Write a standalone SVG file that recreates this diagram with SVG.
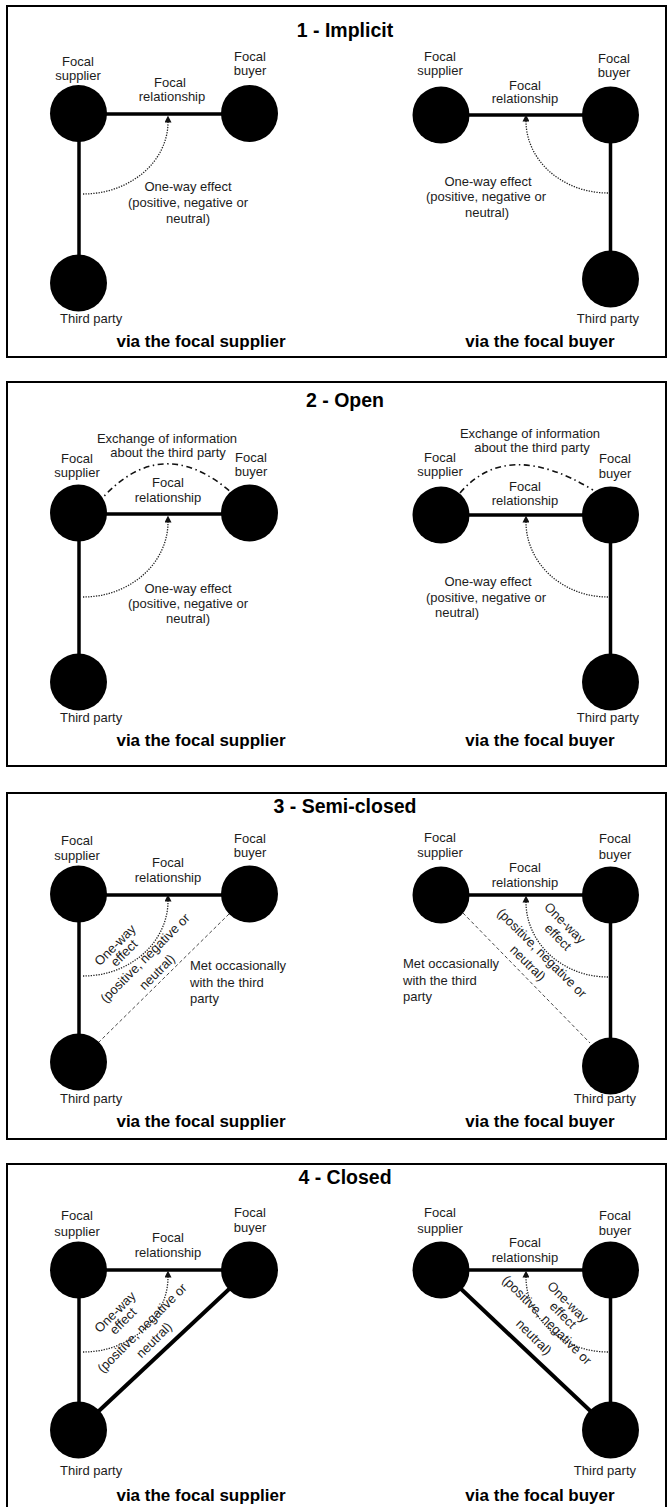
<svg xmlns="http://www.w3.org/2000/svg" width="669" height="1507" viewBox="0 0 669 1507">
<style>
  .frame { fill: none; stroke: #000; stroke-width: 2; }
  .title { font: bold 19.5px "Liberation Sans", Arial, sans-serif; text-anchor: middle; fill: #000; }
  .sub { font: bold 17px "Liberation Sans", Arial, sans-serif; text-anchor: middle; fill: #000; }
  .lbl { font: 13px "Liberation Sans", Arial, sans-serif; text-anchor: middle; fill: #1c1c1c; }
  .start { text-anchor: start; }
  .end { text-anchor: end; }
  .node { fill: #000; }
  .tie { stroke: #000; stroke-width: 3.5; fill: none; }
  .tie-d { stroke: #000; stroke-width: 4; fill: none; }
  .effect { stroke: #222; stroke-width: 1.3; stroke-dasharray: 1.3 1.3; fill: none; marker-end: url(#arrow); }
  .info { stroke: #111; stroke-width: 1.6; stroke-dasharray: 6 3.5 1.5 3.5; fill: none; }
  .meet { stroke: #333; stroke-width: 0.9; stroke-dasharray: 3.5 2.5; fill: none; }
</style>
<defs>
  <marker id="arrow" markerUnits="userSpaceOnUse" markerWidth="7" markerHeight="7" viewBox="0 0 6 6" refX="0.5" refY="3" orient="auto">
    <path d="M0,0 L6,3 L0,6 z" fill="#111"/>
  </marker>
</defs>
<rect width="669" height="1507" fill="#fff"/>

<!-- ===== 1 - Implicit ===== -->
<g id="panel-1">
  <rect class="frame" x="7" y="6" width="659" height="351"/>
  <text class="title" x="345" y="37">1 - Implicit</text>

  <g id="p1-left">
    <g id="p1l-connectors">
      <line class="tie" x1="78.5" y1="114" x2="249.5" y2="114"/>
      <line class="tie" x1="79" y1="113.5" x2="79" y2="283"/>
      <path class="effect" d="M 83 194 A 85 72 0 0 0 168 122"/>
    </g>
    <g id="p1l-supplier"><circle class="node" cx="78.5" cy="113.5" r="28.5"/><text class="lbl" x="78" y="66">Focal</text><text class="lbl" x="78" y="80">supplier</text></g>
    <g id="p1l-buyer"><circle class="node" cx="249.5" cy="113.5" r="28.5"/><text class="lbl" x="250" y="61">Focal</text><text class="lbl" x="250" y="75">buyer</text></g>
    <g id="p1l-third"><circle class="node" cx="78.5" cy="283" r="28.5"/><text class="lbl start" x="60" y="323">Third party</text></g>
    <text class="lbl" x="170" y="87">Focal</text><text class="lbl" x="172" y="101">relationship</text>
    <text class="lbl" x="188" y="191">One-way effect</text>
    <text class="lbl" x="188" y="207">(positive, negative or</text>
    <text class="lbl" x="188" y="223">neutral)</text>
    <text class="sub" x="201" y="347">via the focal supplier</text>
  </g>

  <g id="p1-right">
    <g id="p1r-connectors">
      <line class="tie" x1="441" y1="115" x2="610.5" y2="115"/>
      <line class="tie" x1="610.5" y1="115" x2="610.5" y2="279"/>
      <path class="effect" d="M 608 193 A 82 72 0 0 1 526 121"/>
    </g>
    <g id="p1r-supplier"><circle class="node" cx="441" cy="115" r="28.5"/><text class="lbl" x="440" y="61">Focal</text><text class="lbl" x="440" y="75">supplier</text></g>
    <g id="p1r-buyer"><circle class="node" cx="610.5" cy="115" r="28.5"/><text class="lbl" x="614" y="63">Focal</text><text class="lbl" x="614" y="77">buyer</text></g>
    <g id="p1r-third"><circle class="node" cx="610.5" cy="279" r="28.5"/><text class="lbl end" x="639" y="323">Third party</text></g>
    <text class="lbl" x="525" y="90">Focal</text><text class="lbl" x="525" y="103">relationship</text>
    <text class="lbl" x="488" y="186">One-way effect</text>
    <text class="lbl" x="486" y="201">(positive, negative or</text>
    <text class="lbl" x="487" y="217">neutral)</text>
    <text class="sub" x="540" y="347">via the focal buyer</text>
  </g>
</g>

<!-- ===== 2 - Open ===== -->
<g id="panel-2">
  <rect class="frame" x="7" y="382" width="659" height="384"/>
  <text class="title" x="345" y="407">2 - Open</text>

  <g id="p2-left">
    <g id="p2l-connectors">
      <line class="tie" x1="78.5" y1="514" x2="249.5" y2="514"/>
      <line class="tie" x1="79" y1="513" x2="79" y2="682"/>
      <path class="info" d="M 98 503 Q 160 430 232 493"/>
      <path class="effect" d="M 83 597 A 85 75 0 0 0 168 522"/>
    </g>
    <text class="lbl" x="167" y="443">Exchange of information</text>
    <text class="lbl" x="168" y="457">about the third party</text>
    <g id="p2l-supplier"><circle class="node" cx="78.5" cy="513" r="28.5"/><text class="lbl" x="77" y="463">Focal</text><text class="lbl" x="77" y="477">supplier</text></g>
    <g id="p2l-buyer"><circle class="node" cx="249.5" cy="513" r="28.5"/><text class="lbl" x="251" y="462">Focal</text><text class="lbl" x="251" y="476">buyer</text></g>
    <g id="p2l-third"><circle class="node" cx="78.5" cy="682" r="28.5"/><text class="lbl start" x="60" y="722">Third party</text></g>
    <text class="lbl" x="168" y="487">Focal</text><text class="lbl" x="168" y="502">relationship</text>
    <text class="lbl" x="188" y="593">One-way effect</text>
    <text class="lbl" x="188" y="608">(positive, negative or</text>
    <text class="lbl" x="188" y="623">neutral)</text>
    <text class="sub" x="201" y="746">via the focal supplier</text>
  </g>

  <g id="p2-right">
    <g id="p2r-connectors">
      <line class="tie" x1="441" y1="515" x2="610.5" y2="515"/>
      <line class="tie" x1="610.5" y1="515" x2="610.5" y2="682"/>
      <path class="info" d="M 460 493 Q 507 438 593 490"/>
      <path class="effect" d="M 608 597 A 82 75 0 0 1 526 522"/>
    </g>
    <text class="lbl" x="530" y="438">Exchange of information</text>
    <text class="lbl" x="532" y="452">about the third party</text>
    <g id="p2r-supplier"><circle class="node" cx="441" cy="515" r="28.5"/><text class="lbl" x="440" y="462">Focal</text><text class="lbl" x="440" y="476">supplier</text></g>
    <g id="p2r-buyer"><circle class="node" cx="610.5" cy="515" r="28.5"/><text class="lbl" x="615" y="463">Focal</text><text class="lbl" x="615" y="478">buyer</text></g>
    <g id="p2r-third"><circle class="node" cx="610.5" cy="682" r="28.5"/><text class="lbl end" x="639" y="722">Third party</text></g>
    <text class="lbl" x="525" y="491">Focal</text><text class="lbl" x="525" y="505">relationship</text>
    <text class="lbl" x="488" y="586">One-way effect</text>
    <text class="lbl" x="486" y="602">(positive, negative or</text>
    <text class="lbl start" x="435" y="617">neutral)</text>
    <text class="sub" x="540" y="746">via the focal buyer</text>
  </g>
</g>

<!-- ===== 3 - Semi-closed ===== -->
<g id="panel-3">
  <rect class="frame" x="7" y="793" width="659" height="346"/>
  <text class="title" x="345" y="813">3 - Semi-closed</text>

  <g id="p3-left">
    <g id="p3l-connectors">
      <line class="tie" x1="78.5" y1="895" x2="249.5" y2="895"/>
      <line class="tie" x1="79" y1="894" x2="79" y2="1062"/>
      <line class="meet" x1="229" y1="914" x2="99" y2="1042"/>
      <path class="effect" d="M 83 976 A 85 75 0 0 0 168 901"/>
    </g>
    <g id="p3l-supplier"><circle class="node" cx="78.5" cy="894" r="28.5"/><text class="lbl" x="77" y="845">Focal</text><text class="lbl" x="77" y="860">supplier</text></g>
    <g id="p3l-buyer"><circle class="node" cx="249.5" cy="894" r="28.5"/><text class="lbl" x="250" y="843">Focal</text><text class="lbl" x="250" y="857">buyer</text></g>
    <g id="p3l-third"><circle class="node" cx="78.5" cy="1062" r="28.5"/><text class="lbl start" x="60" y="1103">Third party</text></g>
    <text class="lbl" x="168" y="867">Focal</text><text class="lbl" x="168" y="882">relationship</text>
    <text class="lbl" x="115" y="945" dy="4.5" transform="rotate(-45 115 945)">One-way</text>
    <text class="lbl" x="124" y="953" dy="4.5" transform="rotate(-45 124 953)">effect</text>
    <text class="lbl" x="145" y="958" dy="4.5" transform="rotate(-45 145 958)">(positive, negative or</text>
    <text class="lbl" x="157" y="972" dy="4.5" transform="rotate(-45 157 972)">neutral)</text>
    <text class="lbl start" x="190" y="970">Met occasionally</text>
    <text class="lbl start" x="190" y="987">with the third</text>
    <text class="lbl start" x="190" y="1003">party</text>
    <text class="sub" x="201" y="1127">via the focal supplier</text>
  </g>

  <g id="p3-right">
    <g id="p3r-connectors">
      <line class="tie" x1="441" y1="895" x2="610.5" y2="895"/>
      <line class="tie" x1="610.5" y1="895" x2="610.5" y2="1066"/>
      <line class="meet" x1="463" y1="913" x2="590" y2="1043"/>
      <path class="effect" d="M 608 977 A 82 75 0 0 1 526 902"/>
    </g>
    <g id="p3r-supplier"><circle class="node" cx="441" cy="895" r="28.5"/><text class="lbl" x="440" y="842">Focal</text><text class="lbl" x="440" y="857">supplier</text></g>
    <g id="p3r-buyer"><circle class="node" cx="610.5" cy="895" r="28.5"/><text class="lbl" x="615" y="843">Focal</text><text class="lbl" x="615" y="859">buyer</text></g>
    <g id="p3r-third"><circle class="node" cx="610.5" cy="1066" r="28.5"/><text class="lbl end" x="636" y="1103">Third party</text></g>
    <text class="lbl" x="525" y="872">Focal</text><text class="lbl" x="525" y="887">relationship</text>
    <text class="lbl" x="565" y="923" dy="4.5" transform="rotate(45 565 923)">One-way</text>
    <text class="lbl" x="558" y="937" dy="4.5" transform="rotate(45 558 937)">effect</text>
    <text class="lbl" x="542" y="953" dy="4.5" transform="rotate(45 542 953)">(positive, negative or</text>
    <text class="lbl" x="528" y="963" dy="4.5" transform="rotate(45 528 963)">neutral)</text>
    <text class="lbl start" x="403" y="968">Met occasionally</text>
    <text class="lbl start" x="403" y="985">with the third</text>
    <text class="lbl start" x="403" y="1001">party</text>
    <text class="sub" x="540" y="1127">via the focal buyer</text>
  </g>
</g>

<!-- ===== 4 - Closed ===== -->
<g id="panel-4">
  <rect class="frame" x="7" y="1164" width="659" height="370"/>
  <text class="title" x="345" y="1184">4 - Closed</text>

  <g id="p4-left">
    <g id="p4l-connectors">
      <line class="tie" x1="78.5" y1="1270" x2="249.5" y2="1270"/>
      <line class="tie" x1="79" y1="1270" x2="79" y2="1430"/>
      <line class="tie-d" x1="249.5" y1="1270" x2="78.5" y2="1430"/>
      <path class="effect" d="M 83 1352 A 85 75 0 0 0 168 1277"/>
    </g>
    <g id="p4l-supplier"><circle class="node" cx="78.5" cy="1270" r="28.5"/><text class="lbl" x="77" y="1220">Focal</text><text class="lbl" x="77" y="1236">supplier</text></g>
    <g id="p4l-buyer"><circle class="node" cx="249.5" cy="1270" r="28.5"/><text class="lbl" x="250" y="1217">Focal</text><text class="lbl" x="250" y="1232">buyer</text></g>
    <g id="p4l-third"><circle class="node" cx="78.5" cy="1430" r="28.5"/><text class="lbl start" x="60" y="1475">Third party</text></g>
    <text class="lbl" x="168" y="1242">Focal</text><text class="lbl" x="168" y="1257">relationship</text>
    <text class="lbl" x="115" y="1312" dy="4.5" transform="rotate(-45 115 1312)">One-way</text>
    <text class="lbl" x="123" y="1321" dy="4.5" transform="rotate(-45 123 1321)">effect</text>
    <text class="lbl" x="142" y="1328" dy="4.5" transform="rotate(-45 142 1328)">(positive, negative or</text>
    <text class="lbl" x="154" y="1340" dy="4.5" transform="rotate(-45 154 1340)">neutral)</text>
    <text class="sub" x="201" y="1501">via the focal supplier</text>
  </g>

  <g id="p4-right">
    <g id="p4r-connectors">
      <line class="tie" x1="441" y1="1270" x2="610.5" y2="1270"/>
      <line class="tie" x1="610.5" y1="1270" x2="610.5" y2="1430"/>
      <line class="tie-d" x1="441" y1="1270" x2="610.5" y2="1430"/>
      <path class="effect" d="M 608 1352 A 82 75 0 0 1 526 1277"/>
    </g>
    <g id="p4r-supplier"><circle class="node" cx="441" cy="1270" r="28.5"/><text class="lbl" x="440" y="1217">Focal</text><text class="lbl" x="440" y="1233">supplier</text></g>
    <g id="p4r-buyer"><circle class="node" cx="610.5" cy="1270" r="28.5"/><text class="lbl" x="615" y="1220">Focal</text><text class="lbl" x="615" y="1235">buyer</text></g>
    <g id="p4r-third"><circle class="node" cx="610.5" cy="1430" r="28.5"/><text class="lbl end" x="636" y="1475">Third party</text></g>
    <text class="lbl" x="525" y="1247">Focal</text><text class="lbl" x="525" y="1262">relationship</text>
    <text class="lbl" x="568" y="1302" dy="4.5" transform="rotate(45 568 1302)">One-way</text>
    <text class="lbl" x="563" y="1315" dy="4.5" transform="rotate(45 563 1315)">effect</text>
    <text class="lbl" x="547" y="1320" dy="4.5" transform="rotate(45 547 1320)">(positive, negative or</text>
    <text class="lbl" x="534" y="1337" dy="4.5" transform="rotate(45 534 1337)">neutral)</text>
    <text class="sub" x="540" y="1501">via the focal buyer</text>
  </g>
</g>
</svg>
